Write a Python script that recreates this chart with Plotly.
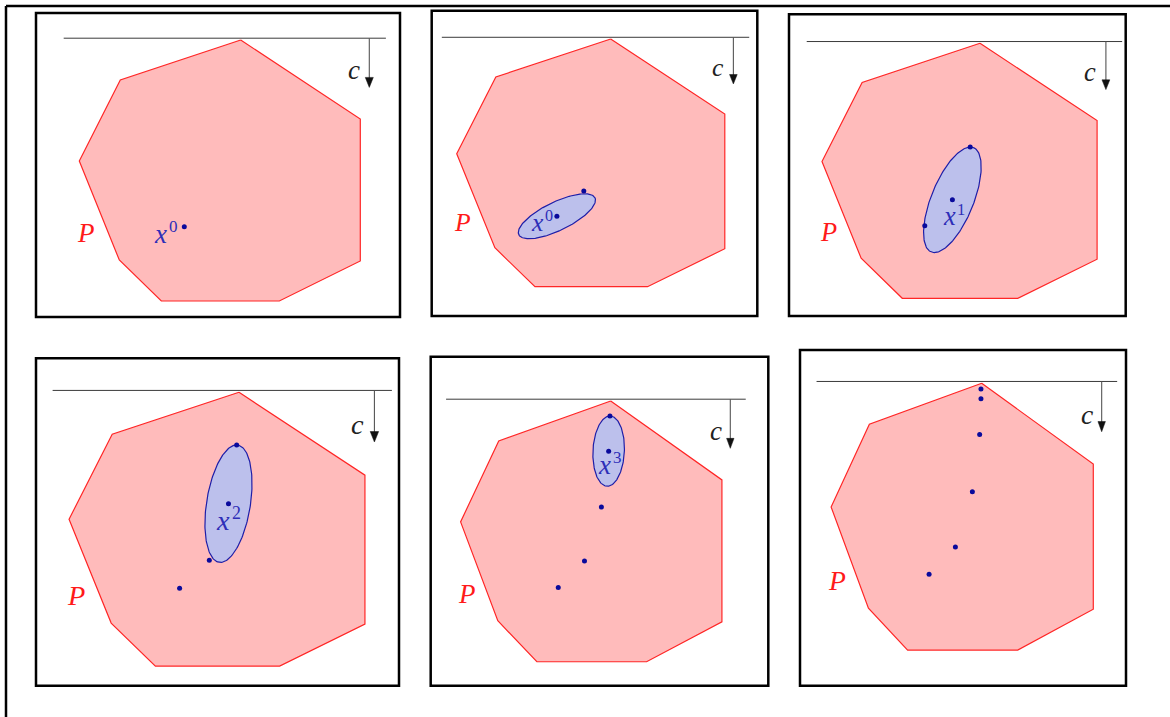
import numpy as np
import plotly.graph_objects as go

W, H = 1170, 717

# ---- data (local LP coordinates, y up) ----
# polygon P vertices
poly_u = [8.07, 14.05, 14.05, 10.0, 4.1, 2.0, 0.0, 2.05]
poly_v = [13.05, 9.1, 2.0, 0.0, 0.0, 2.05, 7.0, 11.05]

# objective level line and direction c
c_level = 13.14
c_line_u = [-0.78, 15.33]
c_arrow_u = 14.5
c_arrow_v = [13.14, 10.68]
c_label_uv = [13.71, 11.44]
p_label_uv = [0.32, 3.385]

# iterates x^0 .. x^5
iter_u = [5.25, 6.66, 7.57, 7.96, 8.03, 8.03]
iter_v = [3.71, 5.04, 7.74, 10.54, 12.30, 12.77]

# ellipsoids centred at iterate k: semi-axes and tilt (degrees)
ell_a = [2.22, 2.88, 2.83, 1.76]
ell_b = [0.75, 1.08, 1.04, 0.845]
ell_ang = [26, 68, 81, 87]

# what each panel shows
panel_npts = [1, 2, 3, 4, 5, 6]
panel_ellipse = [None, 0, 1, 2, 3, None]
panel_label = [0, 0, 1, 2, 3, None]
label_du = [-1.17, -1.04, -0.16, -0.245, -0.2, 0]
label_dv = [-0.345, -0.33, -0.86, -0.78, -0.69, 0]

# ---- layout of panels (pixel boxes and local->pixel maps) ----
panel_box = [(36, 13, 400, 317), (431.7, 10.7, 757.3, 316), (789, 14.3, 1125.7, 316),
             (36, 358.3, 399, 685.7), (430.7, 356.7, 768.3, 685.7), (800, 350, 1126, 685.7)]
panel_map = [(240.7, 40, 1.0, 1.0), (610.7, 39, 0.954, 0.949), (980, 43.3, 0.979, 0.977),
             (239, 392.3, 1.053, 1.049), (610.7, 401, 0.93, 0.999), (981.7, 383.3, 0.933, 1.022)]

FONT = "Liberation Serif, DejaVu Serif, serif"
POLY_FILL = "#FFBBBB"
POLY_LINE = "#FF2626"
ELL_FILL = "#BCC0EC"
ELL_LINE = "#1E1EA8"
PT_COLOR = "#0A0A9C"
LAB_COLOR = "#2E2EB8"
HEAD_LEN, HEAD_HALF = 0.5, 0.2

fig = go.Figure()
layout_axes = {}
shapes = []
annotations = []

t = np.linspace(0, 2 * np.pi, 181)

for k in range(6):
    L, T, R, B = panel_box[k]
    Tx, Ty, sx, sy = panel_map[k]
    u_of = lambda px: (px - Tx) / (20 * sx) + poly_u[0]
    v_of = lambda py: poly_v[0] - (py - Ty) / (20 * sy)
    sfx = "" if k == 0 else str(k + 1)
    xr, yr = "x" + sfx, "y" + sfx
    layout_axes["xaxis" + sfx] = dict(domain=[L / W, R / W], range=[u_of(L), u_of(R)],
                                      visible=False, anchor=yr, fixedrange=True)
    layout_axes["yaxis" + sfx] = dict(domain=[1 - B / H, 1 - T / H], range=[v_of(B), v_of(T)],
                                      visible=False, anchor=xr, fixedrange=True)
    common = dict(xaxis=xr, yaxis=yr, hoverinfo="skip", showlegend=False)
    # polygon
    fig.add_trace(go.Scatter(x=poly_u + [poly_u[0]], y=poly_v + [poly_v[0]], mode="lines",
                             fill="toself", fillcolor=POLY_FILL,
                             line=dict(color=POLY_LINE, width=1.2), **common))
    # level line
    fig.add_trace(go.Scatter(x=c_line_u, y=[c_level, c_level], mode="lines",
                             line=dict(color="#3a3a3a", width=1), **common))
    # arrow c : shaft + head
    tip = c_arrow_v[1]
    fig.add_trace(go.Scatter(x=[c_arrow_u, c_arrow_u], y=[c_arrow_v[0], tip + HEAD_LEN * 0.8],
                             mode="lines", line=dict(color="#555555", width=1.1), **common))
    fig.add_trace(go.Scatter(x=[c_arrow_u - HEAD_HALF, c_arrow_u + HEAD_HALF, c_arrow_u,
                                c_arrow_u - HEAD_HALF],
                             y=[tip + HEAD_LEN, tip + HEAD_LEN, tip, tip + HEAD_LEN],
                             mode="lines", fill="toself", fillcolor="#111111",
                             line=dict(color="#111111", width=0.5), **common))
    # ellipse
    e = panel_ellipse[k]
    if e is not None:
        th = np.deg2rad(ell_ang[e])
        cu, cv = iter_u[e], iter_v[e]
        eu = cu + ell_a[e] * np.cos(t) * np.cos(th) - ell_b[e] * np.sin(t) * np.sin(th)
        ev = cv + ell_a[e] * np.cos(t) * np.sin(th) + ell_b[e] * np.sin(t) * np.cos(th)
        fig.add_trace(go.Scatter(x=eu, y=ev, mode="lines", fill="toself", fillcolor=ELL_FILL,
                                 line=dict(color=ELL_LINE, width=1.2), **common))
    # iterates
    n = panel_npts[k]
    fig.add_trace(go.Scatter(x=iter_u[:n], y=iter_v[:n], mode="markers",
                             marker=dict(color=PT_COLOR, size=5), **common))
    fs = 27 * sy
    annotations.append(dict(x=c_label_uv[0], y=c_label_uv[1], xref=xr, yref=yr,
                            text="c", showarrow=False,
                            font=dict(family=FONT, size=fs, color="#222222", style="italic"),
                            xanchor="center", yanchor="middle", yshift=2))
    annotations.append(dict(x=p_label_uv[0], y=p_label_uv[1], xref=xr, yref=yr,
                            text="P", showarrow=False,
                            font=dict(family=FONT, size=fs, color="#FF1A1A", style="italic"),
                            xanchor="center", yanchor="middle"))
    li = panel_label[k]
    if li is not None:
        lx, ly = iter_u[li] + label_du[k], iter_v[li] + label_dv[k]
        annotations.append(dict(x=lx, y=ly, xref=xr, yref=yr, text="x", showarrow=False,
                                font=dict(family=FONT, size=fs, color=LAB_COLOR, style="italic"),
                                xanchor="center", yanchor="middle"))
        annotations.append(dict(x=lx, y=ly, xref=xr, yref=yr, text=str(li), showarrow=False,
                                font=dict(family=FONT, size=17 * sy, color=LAB_COLOR),
                                xanchor="center", yanchor="middle",
                                xshift=12.5 * sx, yshift=7 * sy))
    # panel frame
    shapes.append(dict(type="rect", xref="paper", yref="paper",
                       x0=L / W, x1=R / W, y0=1 - B / H, y1=1 - T / H,
                       line=dict(color="black", width=2.5), fillcolor="rgba(0,0,0,0)"))

# outer page frame (top and left rules)
shapes.append(dict(type="line", xref="paper", yref="paper", x0=6 / W, x1=1.0,
                   y0=1 - 6 / H, y1=1 - 6 / H, line=dict(color="black", width=2.5)))
shapes.append(dict(type="line", xref="paper", yref="paper", x0=6 / W, x1=6 / W,
                   y0=0, y1=1 - 6 / H, line=dict(color="black", width=2.5)))

fig.update_layout(width=W, height=H, margin=dict(l=0, r=0, t=0, b=0),
                  paper_bgcolor="white", plot_bgcolor="rgba(0,0,0,0)",
                  shapes=shapes, annotations=annotations, showlegend=False,
                  **layout_axes)

fig.write_html("out.html", config={"displayModeBar": False},
               post_script="document.body.style.margin='0';document.body.style.overflow='hidden';")
